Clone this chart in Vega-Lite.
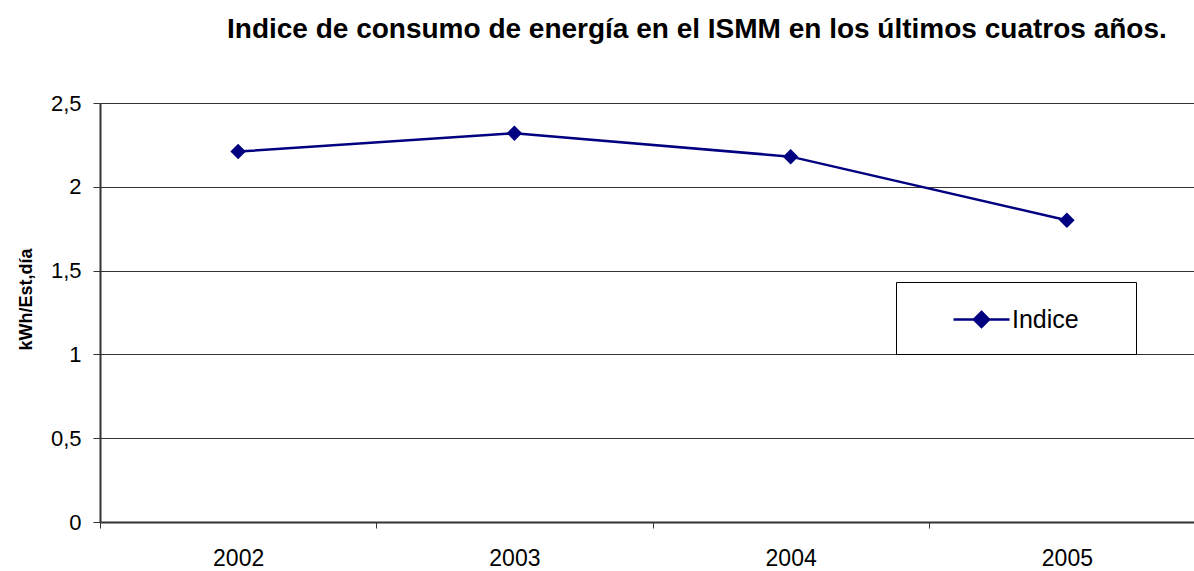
{
  "$schema": "https://vega.github.io/schema/vega-lite/v6.json",
  "width": 1094,
  "height": 419,
  "autosize": {"type": "none"},
  "padding": {"left": 100, "top": 103, "right": 0, "bottom": 49},
  "background": "white",
  "title": {
    "text": "Indice de consumo de energía en el ISMM en los últimos cuatros años.",
    "anchor": "start",
    "frame": "group",
    "dx": 127,
    "offset": 26,
    "baseline": "alphabetic",
    "font": "Liberation Sans",
    "fontSize": 28,
    "fontWeight": "bold",
    "color": "black"
  },
  "data": {
    "values": [
      {"anio": "2002", "valor": 2.21, "serie": "Indice"},
      {"anio": "2003", "valor": 2.32, "serie": "Indice"},
      {"anio": "2004", "valor": 2.18, "serie": "Indice"},
      {"anio": "2005", "valor": 1.8, "serie": "Indice"}
    ]
  },
  "encoding": {
    "x": {
      "field": "anio",
      "type": "ordinal",
      "scale": {"type": "band", "range": [0, 1105], "paddingInner": 0, "paddingOuter": 0},
      "axis": {
        "title": null,
        "tickBand": "extent",
        "tickSize": 6,
        "tickColor": "#333",
        "domainColor": "#333",
        "domainWidth": 2,
        "labelFont": "Liberation Sans",
        "labelFontSize": 23,
        "labelColor": "black",
        "labelPadding": 37,
        "labelBaseline": "alphabetic",
        "labelAngle": 0,
        "grid": false
      }
    },
    "y": {
      "field": "valor",
      "type": "quantitative",
      "scale": {"domain": [0, 2.5], "nice": false},
      "axis": {
        "title": "kWh/Est,día",
        "values": [0, 0.5, 1, 1.5, 2, 2.5],
        "labelExpr": "replace(toString(datum.value), '.', ',')",
        "grid": true,
        "gridColor": "#333",
        "gridWidth": 1,
        "tickSize": 7,
        "tickColor": "#333",
        "domainColor": "#333",
        "domainWidth": 2,
        "labelFont": "Liberation Sans",
        "labelFontSize": 22,
        "labelColor": "black",
        "labelPadding": 12,
        "titleFont": "Liberation Sans",
        "titleFontSize": 18,
        "titleFontWeight": "bold",
        "titleColor": "black",
        "titleX": -69,
        "titleY": 196,
        "titleAngle": 270,
        "titleAlign": "center",
        "titleBaseline": "alphabetic"
      }
    }
  },
  "layer": [
    {"mark": {"type": "line", "color": "#000080", "strokeWidth": 2.5}},
    {
      "mark": {"type": "point", "shape": "diamond", "filled": true, "size": 240, "opacity": 1},
      "encoding": {
        "color": {
          "field": "serie",
          "type": "nominal",
          "scale": {"range": ["#000080"]},
          "legend": {
            "orient": "none",
            "legendX": 796,
            "legendY": 179,
            "title": null,
            "padding": 21,
            "fillColor": "white",
            "strokeColor": "black",
            "cornerRadius": 0,
            "symbolType": "M-1.867,0L1.867,0M0,-0.5L0.5,0L0,0.5L-0.5,0ZM8.52,0",
            "symbolSize": 900,
            "symbolStrokeWidth": 2.5,
            "symbolStrokeColor": "#000080",
            "symbolFillColor": "#000080",
            "symbolOffset": 48,
            "labelOffset": 14,
            "labelFont": "Liberation Sans",
            "labelFontSize": 25,
            "labelColor": "black",
            "encode": {
              "symbols": {
                "update": {
                  "stroke": {"value": "#000080"},
                  "strokeWidth": {"value": 2.5},
                  "fill": {"value": "#000080"},
                  "opacity": {"value": 1}
                }
              }
            }
          }
        }
      }
    }
  ],
  "config": {"view": {"stroke": null}}
}
